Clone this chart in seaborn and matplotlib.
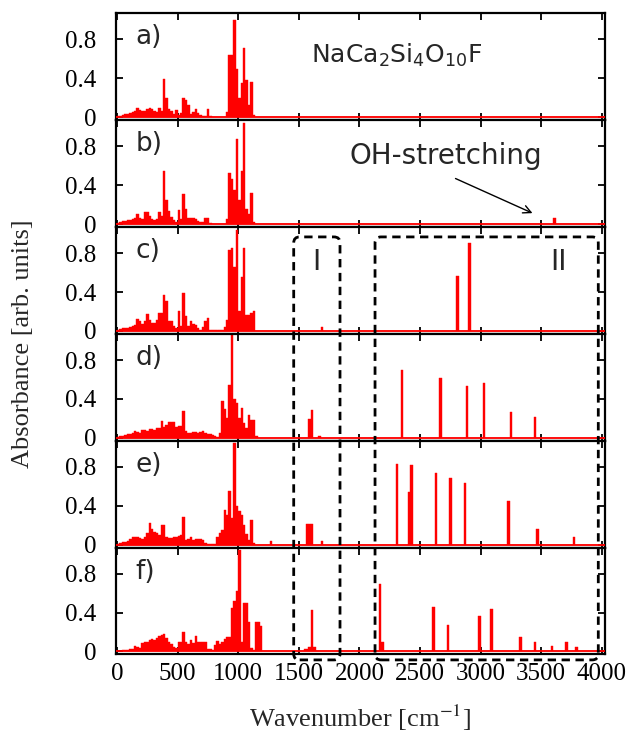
import numpy as np
import pandas as pd
import matplotlib
matplotlib.use("Agg")
import matplotlib.pyplot as plt
from matplotlib.patches import FancyBboxPatch
from matplotlib.transforms import IdentityTransform
import seaborn as sns

# low frequency region, same grid for every panel (cm^-1)
low_grid = [10, 30, 50, 70, 90, 110, 130, 150, 170, 190,
            210, 230, 250, 270, 290, 310, 330, 350, 370, 390,
            410, 430, 450, 470, 490, 510, 530, 550, 570, 590,
            610, 630, 650, 670, 690, 710, 730, 750, 770, 790,
            810, 830, 850, 870, 890, 910, 930, 950, 970, 990,
            1010, 1030, 1050, 1070, 1090, 1110, 1130, 1150, 1170, 1190]

low_a = [.01, .015, .02, .03, .03, .04, .05, .06, .09, .07,
         .06, .06, .08, .09, .08, .06, .05, .09, .06, .39,
         .2, .08, .06, .03, .07, .02, .04, .2, .18, .12,
         .03, .05, .08, .04, .02, .01, .01, .08, .01, .005,
         .005, .005, .005, .005, .005, .05, .64, .64, 1.0, .5,
         .2, .35, .71, .38, .12, .36, .02, 0, 0, 0]
low_b = [.01, .02, .03, .03, .04, .04, .05, .06, .1, .06,
         .05, .12, .12, .08, .05, .04, .05, .12, .08, .55,
         .25, .13, .07, .04, .02, .14, .05, .31, .15, .06,
         .06, .06, .05, .03, .02, .02, .06, .06, .01, .005,
         .005, .005, .005, .005, .005, .05, .53, .46, .35, .87,
         .25, .55, 1.04, .15, .1, .32, .02, 0, 0, 0]
low_c = [.01, .02, .03, .03, .03, .04, .05, .06, .12, .1,
         .07, .1, .17, .11, .08, .08, .11, .18, .18, .37,
         .31, .1, .1, .05, .03, .2, .05, .39, .15, .05,
         .1, .07, .06, .03, .01, .04, .1, .13, .01, .005,
         .005, .005, .005, .005, .04, .11, .83, .85, .66, 1.04,
         .2, .55, .85, .16, .16, .18, .2, 0, 0, 0]
low_d = [.01, .02, .02, .03, .04, .04, .05, .07, .06, .05,
         .08, .08, .07, .09, .09, .08, .1, .1, .17, .11,
         .13, .16, .16, .16, .11, .12, .12, .28, .07, .05,
         .05, .06, .06, .05, .06, .07, .05, .04, .04, .03,
         .02, .01, .05, .38, .3, .2, .54, 1.06, .4, .36,
         .2, .31, .15, .1, .23, .18, .18, .02, 0, 0]
low_e = [.01, .02, .03, .03, .04, .06, .08, .08, .08, .07,
         .06, .08, .12, .22, .16, .13, .12, .1, .2, .2,
         .08, .07, .07, .08, .08, .09, .1, .28, .05, .06,
         .08, .05, .06, .06, .06, .05, .02, .01, .01, .01,
         .01, .08, .12, .15, .36, .3, .55, .27, 1.05, .4,
         .35, .3, .2, .11, .05, .25, .02, 0, 0, 0]
low_f = [.01, .01, .02, .02, .02, .03, .03, .06, .05, .04,
         .09, .1, .1, .12, .13, .12, .14, .16, .17, .18,
         .14, .1, .08, .05, .04, .1, .1, .2, .1, .08,
         .12, .09, .16, .1, .1, .1, .1, .03, .03, .02,
         .07, .11, .08, .1, .13, .15, .15, .45, .52, .62,
         1.04, .1, .5, .5, .3, .04, .02, .3, .3, .26]

# isolated lines above 1200 cm^-1
hi_freq_a = []
hi_int_a = []
hi_freq_b = [3610]
hi_int_b = [0.06]
hi_freq_c = [1690, 2810, 2905]
hi_int_c = [0.04, 0.56, 0.9]
hi_freq_d = [1590, 1610, 1670, 2350, 2660, 2890, 3030, 3250, 3440]
hi_int_d = [0.19, 0.29, 0.02, 0.70, 0.61, 0.53, 0.56, 0.27, 0.21]
hi_freq_e = [1270, 1570, 1590, 1610, 1690, 2310, 2410, 2430, 2630, 2750, 2870, 3230, 3470, 3770]
hi_int_e = [.04, .21, .21, .21, .035, .83, .54, .82, .74, .69, .63, .45, .16, .08]
hi_freq_f = [1550, 1570, 1590, 1610, 1630, 2170, 2190, 2610, 2730, 2990, 3090, 3330, 3450, 3590, 3710, 3790]
hi_int_f = [.03, .03, .05, .43, .05, .69, .1, .46, .27, .37, .44, .15, .1, .06, .1, .05]

panel_names = ['a)', 'b)', 'c)', 'd)', 'e)', 'f)']
low_ints = [low_a, low_b, low_c, low_d, low_e, low_f]
hi_freqs = [hi_freq_a, hi_freq_b, hi_freq_c, hi_freq_d, hi_freq_e, hi_freq_f]
hi_ints = [hi_int_a, hi_int_b, hi_int_c, hi_int_d, hi_int_e, hi_int_f]

sns.set_style("ticks")
plt.rcParams['font.family'] = ['Liberation Serif']
label_font = 'DejaVu Sans'

fig, axes = plt.subplots(6, 1, figsize=(6.34, 7.32), dpi=100, sharex=True)
fig.subplots_adjust(left=0.183, right=0.954, top=0.982, bottom=0.106, hspace=0)

for i, ax in enumerate(axes):
    df = pd.DataFrame({'freq': low_grid + hi_freqs[i], 'absorb': low_ints[i] + hi_ints[i]})
    sns.histplot(data=df, x='freq', weights='absorb', binwidth=20, binrange=(0, 4020),
                 color='red', alpha=1, edgecolor='red', linewidth=0.3, ax=ax)
    ax.axhline(0, color='red', lw=1.3, zorder=3)
    ax.set_xlim(-8, 4025)
    ax.set_ylim(-0.03, 1.07)
    ax.set_yticks([0, 0.4, 0.8])
    ax.set_yticklabels(['0', '0.4', '0.8'])
    ax.set_xticks(range(0, 4001, 500))
    ax.set_ylabel('')
    ax.set_xlabel('')
    ax.tick_params(direction='in', length=5, width=1.3, top=True, right=True,
                   labelsize=18, pad=14, colors='black')
    ax.tick_params(axis='x', pad=6)
    for s in ax.spines.values():
        s.set_linewidth(1.6)
        s.set_color('black')
    ax.text(150, 0.82, panel_names[i], fontsize=19, family=label_font, va='center', ha='left')

axes[-1].set_xticklabels([str(v) for v in range(0, 4001, 500)])

# annotations
axes[0].text(2310, 0.64, r'NaCa$_2$Si$_4$O$_{10}$F', fontsize=18, family=label_font,
             ha='center', va='center')
axes[1].text(2710, 0.70, 'OH-stretching', fontsize=20, family=label_font,
             ha='center', va='center')
axes[1].annotate('', xy=(3449, 0.10), xytext=(2772, 0.48),
                 arrowprops=dict(arrowstyle='->', color='black', lw=1, mutation_scale=14))
axes[2].text(1648, 0.71, 'I', fontsize=20, family=label_font, ha='center', va='center')
axes[2].text(3640, 0.71, 'II', fontsize=20, family=label_font, ha='center', va='center')

# dashed rounded boxes marking regions I and II (panels c-f)
fig.canvas.draw()
top_px = axes[2].get_window_extent().y1 - 10
bot_px = axes[5].get_window_extent().y0 - 5.5
for x0, x1 in [(1458, 1840), (2129, 3971)]:
    px0 = axes[5].transData.transform((x0, 0))[0]
    px1 = axes[5].transData.transform((x1, 0))[0]
    box = FancyBboxPatch((px0, bot_px), px1 - px0, top_px - bot_px,
                         boxstyle='round,pad=0,rounding_size=6',
                         transform=IdentityTransform(), fill=False,
                         edgecolor='black', lw=2.0, linestyle=(0, (3, 2)), zorder=10)
    fig.add_artist(box)

fig.text(0.037, 0.531, 'Absorbance [arb. units]', rotation=90, ha='center', va='center', fontsize=19)
fig.text(0.568, 0.019, r'Wavenumber [cm$^{-1}$]', ha='center', va='center', fontsize=19,
         math_fontfamily='stix')

fig.savefig('out.png', dpi=100)
